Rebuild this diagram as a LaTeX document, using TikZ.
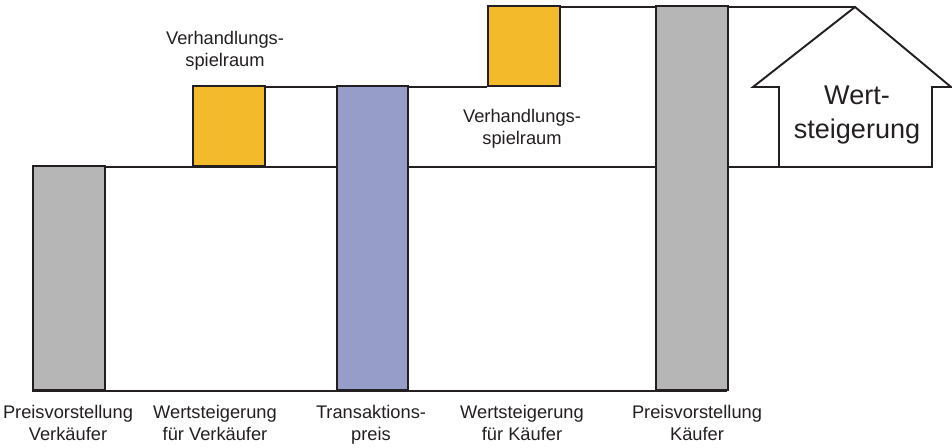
\documentclass[tikz,border=0pt]{standalone}
\usepackage{fontspec}
\setmainfont{Liberation Sans}
\usepackage{xcolor}
\usepackage{tikz}
\usetikzlibrary{positioning}

\definecolor{barGray}{HTML}{B5B6B5}
\definecolor{barGold}{HTML}{F3BB2B}
\definecolor{barBlue}{HTML}{969DC9}
\definecolor{inkDark}{HTML}{231F20}

\begin{document}
\begin{tikzpicture}[
      x=0.02cm, y=-0.02cm,
      font=\fontsize{10.4}{12.6}\selectfont,
      bar/.style={draw=inkDark, line width=1.1pt, inner sep=0pt, anchor=south west, minimum width=1.44cm},
      lvl/.style={draw=inkDark, line width=1.1pt},
      lbl/.style={align=center, text=inkDark, inner sep=0pt}
    ]
    \useasboundingbox (0,0) rectangle (952,448);
    % house shaped arrow
    \coordinate (apex) at (855,7);
    \coordinate (eaveL) at (753,87);
    \coordinate (eaveR) at (951,87);
    \coordinate (footL) at (779,167);
    \coordinate (footR) at (932,167);
    \draw[lvl, line join=miter] (footL) -- (footL |- eaveL) -- (eaveL) -- (apex)
      -- (eaveR) -- (footR |- eaveR) -- (footR) -- cycle;
    % levels
    \draw[lvl] (32,167) -- (footL);
    \draw[lvl] (192,87) -- (487,87);
    \draw[lvl] (487,7) -- (apex);
    \draw[lvl] (32,391) -- (727,391);
    % bars
    \node[bar, fill=barGray, minimum height=4.48cm] (pvv) at (32,391) {};
    \node[bar, fill=barGold, minimum height=1.6cm] (ysv) at (192,167) {};
    \node[bar, fill=barBlue, minimum height=6.08cm, minimum width=1.42cm] (tp) at (336,391) {};
    \node[bar, fill=barGold, minimum height=1.6cm] (ysk) at (487,87) {};
    \node[bar, fill=barGray, minimum height=7.68cm] (pvk) at (655,391) {};
    % labels
    \node[lbl] (vsv) at (225,51) {Verhandlungs-\\spielraum};
    \node[lbl] (vsk) at (522,129) {Verhandlungs-\\spielraum};
    \node[lbl, font=\fontsize{15.4}{19.8}\selectfont] (wst) at (857,115) {Wert-\\steigerung};
    \node[lbl, anchor=north] (lpvv) at (68,405) {Preisvorstellung\\Verkäufer};
    \node[lbl, anchor=north] (lwsv) at (215,405) {Wertsteigerung\\für Verkäufer};
    \node[lbl, anchor=north] (ltp) at (371,405) {Transaktions-\\preis};
    \node[lbl, anchor=north] (lwsk) at (522,405) {Wertsteigerung\\für Käufer};
    \node[lbl, anchor=north] (lpvk) at (697,405) {Preisvorstellung\\Käufer};
  \end{tikzpicture}
\end{document}
